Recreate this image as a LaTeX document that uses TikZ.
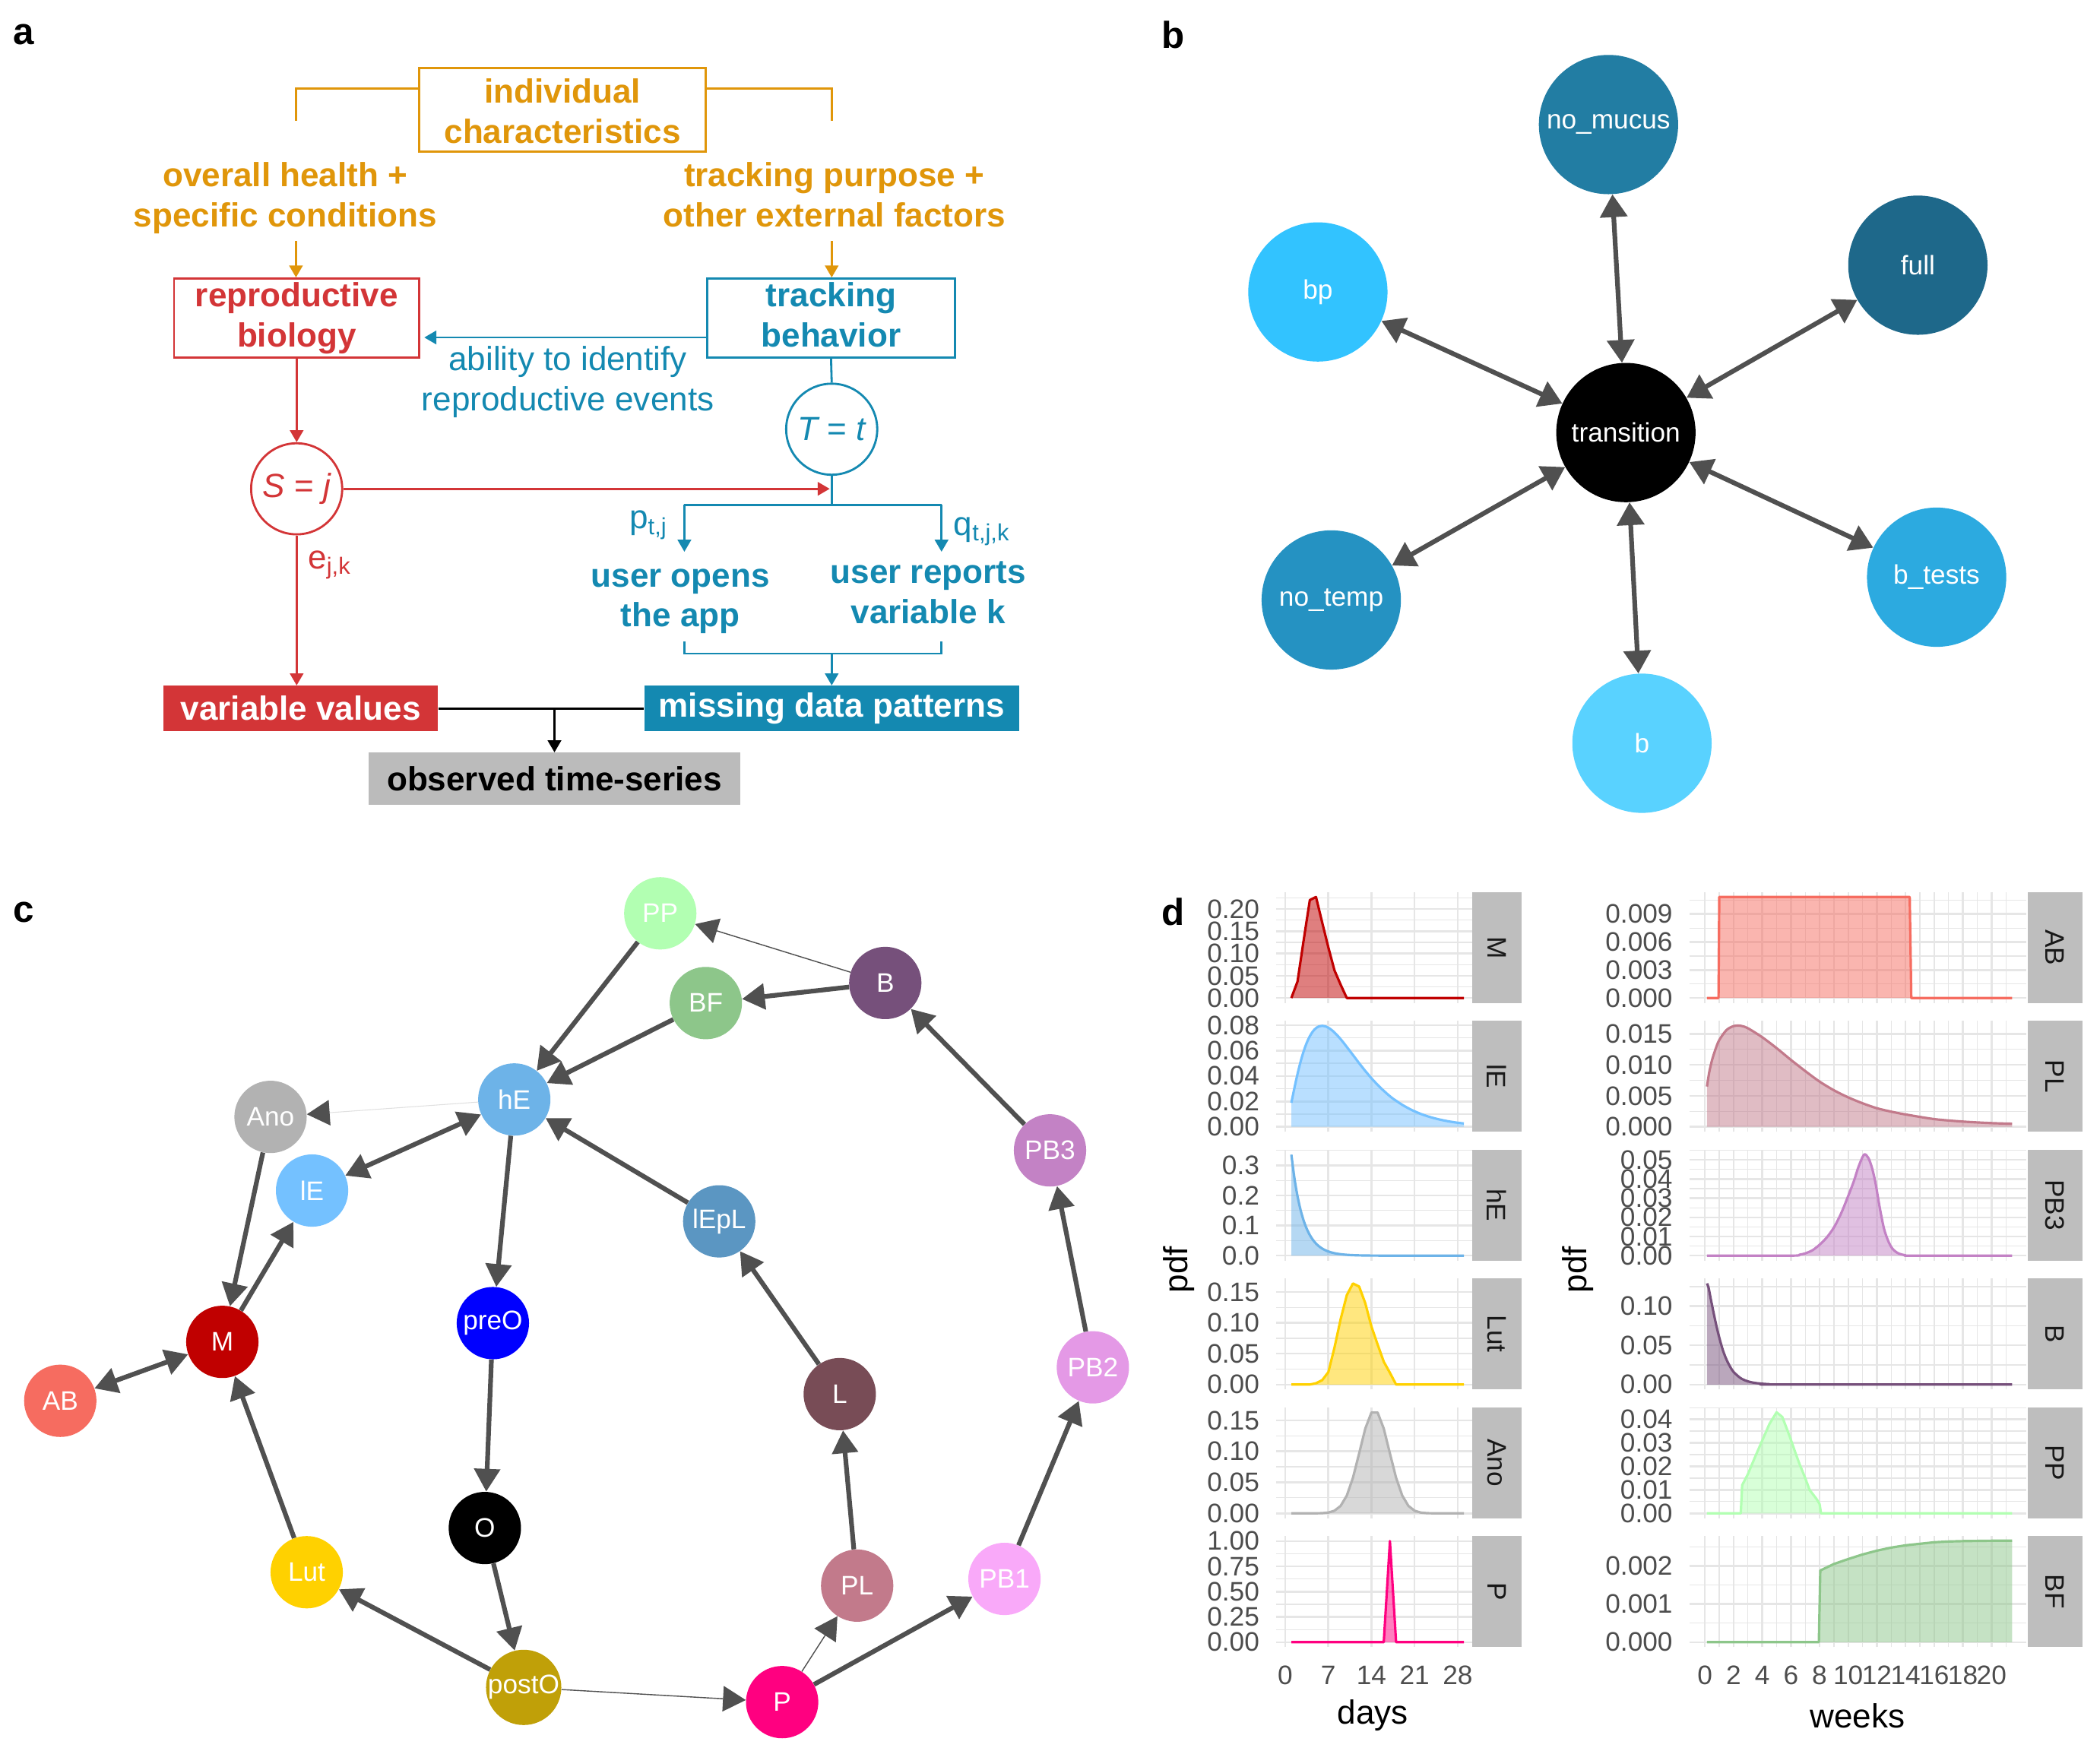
\documentclass[tikz,border=0pt]{standalone}
\usepackage{fontspec}
\setmainfont{Liberation Sans}
\usetikzlibrary{arrows.meta,calc}
\definecolor{cOr}{RGB}{224,150,10}
\definecolor{cRd}{RGB}{211,53,55}
\definecolor{cBl}{RGB}{20,137,177}
\definecolor{cGy}{RGB}{187,187,187}
\definecolor{eg}{RGB}{80,80,80}
\definecolor{gridc}{RGB}{230,230,230}
\definecolor{stripc}{RGB}{190,190,190}
\definecolor{tkc}{RGB}{77,77,77}
\definecolor{bNM}{RGB}{34,125,163}
\definecolor{bFU}{RGB}{30,104,138}
\definecolor{bBP}{RGB}{50,195,255}
\definecolor{bBT}{RGB}{44,170,224}
\definecolor{bNT}{RGB}{37,146,194}
\definecolor{bB}{RGB}{89,210,255}
\definecolor{sPP}{RGB}{178,255,178}
\definecolor{sB}{RGB}{118,80,123}
\definecolor{sBF}{RGB}{141,198,138}
\definecolor{shE}{RGB}{109,179,232}
\definecolor{sAno}{RGB}{178,178,178}
\definecolor{slE}{RGB}{116,193,255}
\definecolor{slEpL}{RGB}{91,150,194}
\definecolor{sPBiii}{RGB}{195,130,197}
\definecolor{sM}{RGB}{192,0,0}
\definecolor{sAB}{RGB}{246,108,96}
\definecolor{spreO}{RGB}{0,0,255}
\definecolor{sL}{RGB}{120,76,86}
\definecolor{sPBii}{RGB}{228,153,230}
\definecolor{sLut}{RGB}{255,209,0}
\definecolor{sPL}{RGB}{194,122,139}
\definecolor{sPBi}{RGB}{249,169,249}
\definecolor{spostO}{RGB}{192,160,8}
\definecolor{sP}{RGB}{255,0,128}

\newcommand\fA{\fontsize{25}{30}\selectfont}
\newcommand\fB{\fontsize{20}{24}\selectfont}
\newcommand\fL{\fontsize{28}{32}\selectfont\bfseries}

\tikzset{
  lwa/.style={line width=1.6pt},
  arr/.style={lwa, -{Triangle[length=9pt,width=10pt]}},
  abox/.style={draw, lwa, font=\fA\bfseries, align=center, inner sep=0pt},
  atext/.style={font=\fA\bfseries, align=center, inner sep=0pt},
  fbox/.style={font=\fA\bfseries, inner sep=0pt, minimum height=34pt},
  circ/.style={circle, draw, lwa, minimum size=68pt, inner sep=0pt, font=\fA},
  plab/.style={font=\fL, anchor=center},
  bnode/.style={circle, minimum size=104pt, inner sep=0pt, text=white, font=\fB},
  cnode/.style={circle, minimum size=54pt, inner sep=0pt, text=white, font=\fB},
  bedge/.style={draw=eg, line width=3.5pt, {Triangle[length=17pt,width=20pt]}-{Triangle[length=17pt,width=20pt]}},
  cedge/.style={draw=eg, line width=3.5pt, -{Triangle[length=17pt,width=19pt]}},
  cdbl/.style={draw=eg, line width=3.5pt, {Triangle[length=17pt,width=19pt]}-{Triangle[length=17pt,width=19pt]}},
  cthin/.style={draw=eg, line width=0.8pt, -{Triangle[length=17pt,width=19pt]}},
  cfaint/.style={draw=black!12, line width=0.6pt, -{Triangle[length=17pt,width=19pt,color=eg]}},
  gmaj/.style={draw=gridc, line width=1.4pt},
  gmin/.style={draw=gridc, line width=0.7pt},
  tk/.style={font=\fB, text=tkc, inner sep=0pt},
  stxt/.style={font=\fB, text=black!90, rotate=-90, inner sep=0pt},
  dcurve/.style={line width=1.8pt, line join=round},
  dp/.style n args={4}{shift={(#1,#3+79.2273)}, x={(#2pt,0pt)}, y={(0pt,{83/(1.1*#4)*1pt})}},
}

% left column grid: #1 max, #2 majors, #3 minors
\newcommand\Lgrid[3]{%
  \foreach \v in {#3} \draw[gmin] (-1.435,\v) -- (30.3,\v);
  \foreach \v in {#2} \draw[gmaj] (-1.435,\v) -- (30.3,\v);
  \foreach \d in {0,7,14,21,28} \draw[gmaj] (\d,{-0.05*#1}) -- (\d,{1.05*#1});
  \fill[stripc] (30.3,{-0.05*#1}) rectangle (38.35,{1.05*#1});
}
\newcommand\Llab[3]{%
  \foreach \v/\l in {#2} \node[tk, anchor=east] at ([xshift=-12.5pt]-1.435,\v) {\l};
  \node[stxt] at (34.33,{0.5*#1}) {#3};
}
\newcommand\Rgrid[3]{%
  \foreach \v in {#3} \draw[gmin] (-1.075,\v) -- (22.43,\v);
  \foreach \v in {#2} \draw[gmaj] (-1.075,\v) -- (22.43,\v);
  \foreach \d in {1,3,...,21} \draw[gmin] (\d,{-0.05*#1}) -- (\d,{1.05*#1});
  \foreach \d in {0,2,...,20} \draw[gmaj] (\d,{-0.05*#1}) -- (\d,{1.05*#1});
  \fill[stripc] (22.52,{-0.05*#1}) rectangle (26.36,{1.05*#1});
}
\newcommand\Rlab[3]{%
  \foreach \v/\l in {#2} \node[tk, anchor=east] at ([xshift=-12.5pt]-1.075,\v) {\l};
  \node[stxt] at (24.44,{0.5*#1}) {#3};
}
% area: #1 colour, #2 x start, #3 x end, #4 coordinates
\newcommand\area[4]{%
  \fill[#1, opacity=.5] (#2,0) -- plot coordinates {#4} -- (#3,0) -- cycle;
  \draw[#1, dcurve] plot coordinates {#4};
}
\newcommand\sarea[4]{%
  \fill[#1, opacity=.5] (#2,0) -- plot[smooth] coordinates {#4} -- (#3,0) -- cycle;
  \draw[#1, dcurve] plot[smooth] coordinates {#4};
}

\begin{document}
\begin{tikzpicture}[x=1pt,y=-1pt]
\useasboundingbox (0,0) rectangle (1568,1307);
\fill[white] (0,0) rectangle (1568,1307);

% ================= panel a =================
\node[plab] (la) at (18,26) {a};
\node[abox, draw=cOr, text=cOr, minimum width=214pt, minimum height=62pt] (ic) at (420,82) {\rule{0pt}{20pt}individual\\characteristics};
\coordinate (ohT) at (221,90);
\coordinate (tpT) at (621,90);
\draw[cOr, lwa] ($(ic.north west)!0.25!(ic.south west)$) -| (ohT);
\draw[cOr, lwa] ($(ic.north east)!0.25!(ic.south east)$) -| (tpT);
\node[atext, text=cOr] (oh) at (213,148) {overall health +\\specific conditions};
\node[atext, text=cOr] (tp) at (623,145.5) {tracking purpose +\\other external factors};
\coordinate (ohB) at (221,180);
\coordinate (tpB) at (621,180);
\node[abox, draw=cRd, text=cRd, minimum width=183pt, minimum height=59pt] (rb) at (221.5,237.5) {reproductive\\biology};
\node[abox, draw=cBl, text=cBl, minimum width=185pt, minimum height=59pt] (tb) at (620.5,237.5) {tracking\\behavior\rule[-5pt]{0pt}{5pt}};
\draw[cOr, arr] (ohB) -- (ohB |- rb.north);
\draw[cOr, arr] (tpB) -- (tpB |- tb.north);
\coordinate (ay) at (0,252);
\draw[cBl, arr, shorten >=3pt] (tb.west |- ay) -- (rb.east |- ay);
\node[font=\fA, text=cBl, align=center, inner sep=0pt] (ab) at (424,285) {ability to identify\\reproductive events};
\node[circ, draw=cBl, text=cBl] (Tt) at (621,320.5) {{\itshape T} = {\itshape t}};
\node[circ, draw=cRd, text=cRd] (Sj) at (221.5,365) {{\itshape S} = {\itshape j}};
\draw[cBl, lwa] (tb.south) -- (Tt.north);
\draw[cRd, arr] (rb.south) -- (Sj.north);
\coordinate (jn) at (621,377);
\draw[cBl, lwa] (Tt.south) -- (jn);
\draw[cRd, arr, shorten >=1.5pt] (Sj.east) -- (Sj.east -| jn);
\coordinate (pl) at (511,377);
\coordinate (pr) at (703,377);
\coordinate (pld) at (511,412);
\coordinate (prd) at (703,412);
\draw[cBl, lwa] (pl) -- (pr);
\draw[cBl, arr] (pl) -- (pld);
\draw[cBl, arr] (pr) -- (prd);
\node[font=\fA, text=cBl, inner sep=0pt] (ptj) at (484,392) {p\textsubscript{t,j}};
\node[font=\fA, text=cBl, inner sep=0pt] (qtjk) at (733,397) {q\textsubscript{t,j,k}};
\node[atext, text=cBl] (uo) at (508,449) {user opens\\the app};
\node[atext, text=cBl] (ur) at (693,442.5) {user reports\\variable k};
\coordinate (bl) at (511,479);
\coordinate (br) at (703,479);
\coordinate (bm) at (621,488);
\draw[cBl, lwa] (bl) -- (bl |- bm) -- (br |- bm) -- (br);
\node[fbox, fill=cBl, text=white, minimum width=280pt] (mdp) at (621,529) {missing data patterns};
\node[fbox, fill=cRd, text=white, minimum width=205pt] (vv) at (224.5,529) {variable values};
\draw[cBl, arr] (bm) -- (mdp.north);
\draw[cRd, arr] (Sj.south) -- (Sj.south |- vv.north);
\node[font=\fA, text=cRd, inner sep=0pt] (ejk) at (246,422) {e\textsubscript{j,k}};
\node[fbox, fill=cGy, text=black, minimum width=278pt, minimum height=39pt] (ots) at (414,581.5) {observed time-series};
\draw[black, lwa] (vv.east) -- (mdp.west);
\coordinate (om) at (414,529);
\draw[black, arr] (om) -- (ots.north);

% ================= panel b =================
\node[plab] (lb) at (876,26) {b};
\node[bnode, fill=black] (tr) at (1214,323) {transition};
\node[bnode, fill=bNM] (nm) at (1201,93) {no\_mucus};
\node[bnode, fill=bFU] (fu) at (1432,198) {full};
\node[bnode, fill=bBP] (bp) at (984,218) {bp};
\node[bnode, fill=bBT] (bt) at (1446,431) {b\_tests};
\node[bnode, fill=bNT] (nt) at (994,448) {no\_temp};
\node[bnode, fill=bB] (bb) at (1226,555) {b};
\foreach \n in {nm,fu,bp,bt,nt,bb} \draw[bedge] (tr) -- (\n);

% ================= panel c =================
\node[plab] (lc) at (18,681) {c};
\node[cnode, fill=sPP] (PP) at (493,682) {PP};
\node[cnode, fill=sB] (B) at (661,734) {B};
\node[cnode, fill=sBF] (BF) at (527,749) {BF};
\node[cnode, fill=shE] (hE) at (384,821) {hE};
\node[cnode, fill=sAno] (Ano) at (202,834) {Ano};
\node[cnode, fill=slE] (lE) at (233,889) {lE};
\node[cnode, fill=slEpL] (lEpL) at (537,912) {lEpL};
\node[cnode, fill=sPBiii] (PB3) at (784,859) {PB3};
\node[cnode, fill=sM] (M) at (166,1002) {M};
\node[cnode, fill=sAB] (AB) at (45,1046) {AB};
\node[cnode, fill=spreO] (preO) at (368,988) {preO};
\node[cnode, fill=sL] (L) at (627,1041) {L};
\node[cnode, fill=sPBii] (PB2) at (816,1021) {PB2};
\node[cnode, fill=black] (O) at (362,1141) {O};
\node[cnode, fill=sLut] (Lut) at (229,1174) {Lut};
\node[cnode, fill=sPL] (PL) at (640,1184) {PL};
\node[cnode, fill=sPBi] (PB1) at (750,1179) {PB1};
\node[cnode, fill=spostO] (postO) at (391,1260) {postO};
\node[cnode, fill=sP] (P) at (584,1271) {P};
\draw[cedge] (PP) -- (hE);
\draw[cedge] (BF) -- (hE);
\draw[cedge] (B) -- (BF);
\draw[cthin] (B) -- (PP);
\draw[cfaint] (hE) -- (Ano);
\draw[cdbl] (hE) -- (lE);
\draw[cedge] (Ano) -- (M);
\draw[cedge] (M) -- (lE);
\draw[cdbl] (AB) -- (M);
\draw[cedge] (hE) -- (preO);
\draw[cedge] (preO) -- (O);
\draw[cedge] (O) -- (postO);
\draw[cedge] (postO) -- (Lut);
\draw[cedge] (Lut) -- (M);
\draw[cthin] (postO) -- (P);
\draw[cthin] (P) -- (PL);
\draw[cedge] (P) -- (PB1);
\draw[cedge] (PL) -- (L);
\draw[cedge] (L) -- (lEpL);
\draw[cedge] (lEpL) -- (hE);
\draw[cedge] (PB1) -- (PB2);
\draw[cedge] (PB2) -- (PB3);
\draw[cedge] (PB3) -- (B);

% ================= panel d =================
\node[plab] (ld) at (876,681) {d};
% --- left column (days) ---
\begin{scope}[dp={959.6}{4.6}{666}{22.7}]
  \Lgrid{22.7}{0,5,10,15,20}{2.5,7.5,12.5,17.5,22.5}
  \area{sM}{1}{29}{(1,0) (2,3.7) (3,13) (4,22) (5,22.7) (6,17) (7,11.4) (8,6.2) (9,3) (10,0) (29,0)}
  \Llab{22.7}{0/0.00,5/0.05,10/0.10,15/0.15,20/0.20}{M}
\end{scope}
\begin{scope}[dp={959.6}{4.6}{762.2}{7.95}]
  \Lgrid{7.95}{0,2,4,6,8}{1,3,5,7}
  \fill[slE, opacity=.5] (1,0) -- plot[domain=1:29, samples=57, smooth] (\x,{2.4242*(\x)^1.5*exp(-\x/4)}) -- (29,0) -- cycle;
  \draw[slE, dcurve] plot[domain=1:29, samples=57, smooth] (\x,{2.4242*(\x)^1.5*exp(-\x/4)});
  \Llab{7.95}{0/0.00,2/0.02,4/0.04,6/0.06,8/0.08}{lE}
\end{scope}
\begin{scope}[dp={959.6}{4.6}{858.4}{33.6}]
  \Lgrid{33.6}{0,10,20,30}{5,15,25,35}
  \fill[shE, opacity=.5] (1,0) -- plot[domain=1:29, samples=57, smooth] (\x,{33.6*exp(-0.53*(\x-1))}) -- (29,0) -- cycle;
  \draw[shE, dcurve] plot[domain=1:29, samples=57, smooth] (\x,{33.6*exp(-0.53*(\x-1))});
  \Llab{33.6}{0/0.0,10/0.1,20/0.2,30/0.3}{hE}
\end{scope}
\begin{scope}[dp={959.6}{4.6}{954.6}{16.4}]
  \Lgrid{16.4}{0,5,10,15}{2.5,7.5,12.5}
  \area{sLut}{1}{29}{(1,0) (4,0) (5,0.2) (6,0.7) (7,2) (8,6) (9,10.6) (10,14.5) (11,16.4) (12,15.9) (13,13.2) (14,9.4) (15,6.5) (16,3.7) (17,1.9) (18,0) (29,0)}
  \Llab{16.4}{0/0.00,5/0.05,10/0.10,15/0.15}{Lut}
\end{scope}
\begin{scope}[dp={959.6}{4.6}{1050.8}{16.3}]
  \Lgrid{16.3}{0,5,10,15}{2.5,7.5,12.5}
  \fill[sAno, opacity=.5] (1,0) -- plot[domain=1:29, samples=29] (\x,{16.62*exp(-((\x-14.5)^2)/11.52)}) -- (29,0) -- cycle;
  \draw[sAno, dcurve] plot[domain=1:29, samples=29] (\x,{16.62*exp(-((\x-14.5)^2)/11.52)});
  \Llab{16.3}{0/0.00,5/0.05,10/0.10,15/0.15}{Ano}
\end{scope}
\begin{scope}[dp={959.6}{4.6}{1147}{100}]
  \Lgrid{100}{0,25,50,75,100}{12.5,37.5,62.5,87.5}
  \area{sP}{1}{29}{(1,0) (16,0) (17,100) (18,0) (29,0)}
  \Llab{100}{0/0.00,25/0.25,50/0.50,75/0.75,100/1.00}{P}
\end{scope}
\foreach \d in {0,7,14,21,28} \node[tk] at ({959.6+4.6*\d},1251) {\d};
\node[font=\fA] (xd) at (1025,1281) {days};
\node[font=\fA, rotate=90] (yl) at (880,948) {pdf};

% --- right column (weeks) ---
\begin{scope}[dp={1273}{10.7}{666}{10.83}]
  \Rgrid{10.83}{0,3,6,9}{1.5,4.5,7.5,10.5}
  \area{sAB}{0.143}{21.43}{(0.143,0) (0.95,0) (1.0,10.83) (14.29,10.83) (14.4,0) (21.43,0)}
  \Rlab{10.83}{0/0.000,3/0.003,6/0.006,9/0.009}{AB}
\end{scope}
\begin{scope}[dp={1273}{10.7}{762.2}{16.3}]
  \Rgrid{16.3}{0,5,10,15}{2.5,7.5,12.5}
  \sarea{sPL}{0.143}{21.43}{(0.143,6.5) (0.3,8.8) (0.5,10.8) (0.75,12.6) (1,14.0) (1.5,15.6) (2,16.25) (2.5,16.3) (3,15.9) (4,14.45) (5,12.7) (6,10.8) (7,9.0) (8,7.3) (9,5.9) (10,4.75) (11,3.8) (12,3.0) (13,2.45) (14,2.0) (16,1.25) (18,0.85) (20,0.6) (21.43,0.5)}
  \Rlab{16.3}{0/0.000,5/0.005,10/0.010,15/0.015}{PL}
\end{scope}
\begin{scope}[dp={1273}{10.7}{858.4}{5.27}]
  \Rgrid{5.27}{0,1,2,3,4,5}{0.5,1.5,2.5,3.5,4.5,5.5}
  \sarea{sPBiii}{0.143}{21.43}{(0.143,0) (6,0) (6.6,0.05) (7,0.12) (7.5,0.28) (8,0.57) (8.5,0.95) (9,1.47) (9.5,2.2) (10,3.12) (10.4,3.9) (10.7,4.6) (11.1,5.27) (11.4,5.1) (11.65,4.6) (11.9,3.8) (12.2,2.5) (12.5,1.4) (12.8,0.75) (13.1,0.35) (13.5,0.12) (14,0.02) (14.5,0) (21.43,0)}
  \Rlab{5.27}{0/0.00,1/0.01,2/0.02,3/0.03,4/0.04,5/0.05}{PB3}
\end{scope}
\begin{scope}[dp={1273}{10.7}{954.6}{12.9}]
  \Rgrid{12.9}{0,5,10}{2.5,7.5,12.5}
  \sarea{sB}{0.143}{21.43}{(0.143,12.9) (0.25,12.4) (0.4,11.0) (0.6,9.2) (0.8,7.5) (1,6.0) (1.25,4.4) (1.5,3.2) (1.75,2.3) (2,1.6) (2.5,0.8) (3,0.4) (3.5,0.2) (4,0.1) (4.5,0.04) (5,0) (21.43,0)}
  \Rlab{12.9}{0/0.00,5/0.05,10/0.10}{B}
\end{scope}
\begin{scope}[dp={1273}{10.7}{1050.8}{4.3}]
  \Rgrid{4.3}{0,1,2,3,4}{0.5,1.5,2.5,3.5,4.5}
  \area{sPP}{0.143}{21.43}{(0.143,0) (2.5,0) (2.6,1.2) (3,1.67) (3.5,2.4) (4,3.1) (4.5,3.8) (5,4.3) (5.4,4.1) (5.9,3.3) (6.3,2.6) (6.6,2.1) (7,1.5) (7.3,1.0) (7.8,0.6) (8,0.4) (8.1,0) (21.43,0)}
  \Rlab{4.3}{0/0.00,1/0.01,2/0.02,3/0.03,4/0.04}{PP}
\end{scope}
\begin{scope}[dp={1273}{10.7}{1147}{2.65}]
  \Rgrid{2.65}{0,1,2}{0.5,1.5,2.5}
  \area{sBF}{0.143}{21.43}{(0.143,0) (7.95,0) (8.05,1.88) (9,2.05) (10,2.18) (11,2.3) (12,2.4) (13,2.48) (14,2.54) (15,2.58) (16,2.62) (17,2.64) (18,2.65) (20,2.66) (21.43,2.66)}
  \Rlab{2.65}{0/0.000,1/0.001,2/0.002}{BF}
\end{scope}
\foreach \d in {0,2,...,20} \node[tk] at ({1273+10.7*\d},1251) {\d};
\node[font=\fA] (xw) at (1387,1281) {weeks};
\node[font=\fA, rotate=90] (yr) at (1178,948) {pdf};
\end{tikzpicture}
\end{document}
